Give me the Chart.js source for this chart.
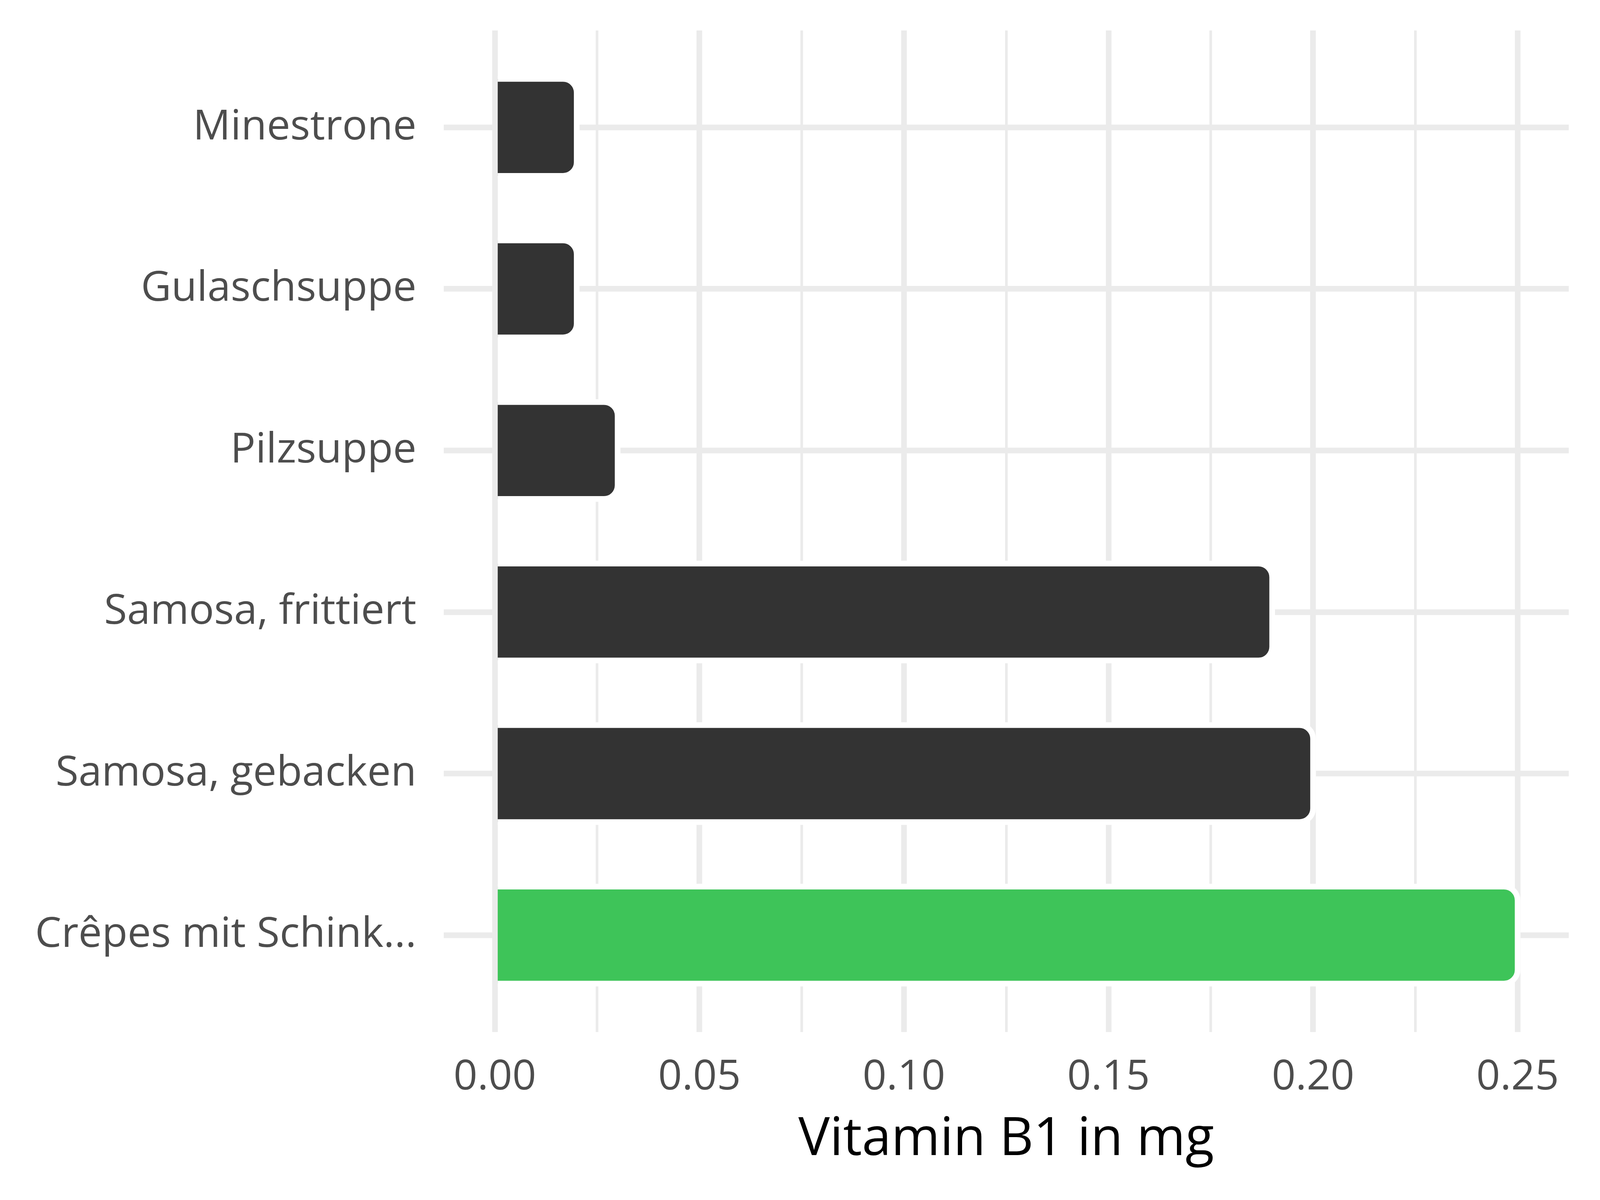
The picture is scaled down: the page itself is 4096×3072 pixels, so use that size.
<!DOCTYPE html>
<html>
<head>
<meta charset="utf-8">
<script src="https://cdn.jsdelivr.net/npm/chart.js@4.4.1/dist/chart.umd.min.js"></script>
<style>
  html, body { margin: 0; padding: 0; background: #ffffff; }
  #wrap { width: 4096px; height: 3072px; position: relative; }
</style>
</head>
<body>
<div id="wrap"><canvas id="c" width="4096" height="3072"></canvas></div>
<script>
// ---- data ----
const categories = ["Minestrone", "Gulaschsuppe", "Pilzsuppe", "Samosa, frittiert", "Samosa, gebacken", "Crêpes mit Schink..."];
const values = [0.02, 0.02, 0.03, 0.19, 0.20, 0.25];
const barColors = ["#333333", "#333333", "#333333", "#333333", "#333333", "#3EC459"];
const xMajorTicks = [0.00, 0.05, 0.10, 0.15, 0.20, 0.25];
const xTickLabels = ["0.00", "0.05", "0.10", "0.15", "0.20", "0.25"];
const xMinorTicks = [0.025, 0.075, 0.125, 0.175, 0.225];
const xAxisTitle = "Vitamin B1 in mg";

const FONT = "'Open Sans', 'Noto Sans', sans-serif";
const MAJOR_W = 14.5, MINOR_W = 6.8, GRID = "#EBEBEB";
const RADIUS = 35, OUTLINE_W = 14.5;

const isMajor = v => xMajorTicks.some(m => Math.abs(m - v) < 1e-9);

const outlinePlugin = {
  id: 'outline',
  afterDatasetsDraw(chart) {
    const ctx = chart.ctx;
    const meta = chart.getDatasetMeta(0);
    ctx.save();
    ctx.strokeStyle = '#ffffff';
    ctx.lineWidth = OUTLINE_W;
    ctx.lineCap = 'butt';
    ctx.lineJoin = 'round';
    meta.data.forEach(el => {
      const p = el.getProps(['x', 'y', 'base', 'height'], true);
      const top = p.y - p.height / 2, bottom = p.y + p.height / 2;
      const r = Math.min(RADIUS, (p.x - p.base) / 2, p.height / 2);
      ctx.beginPath();
      ctx.moveTo(p.base, top);
      ctx.lineTo(p.x - r, top);
      ctx.arcTo(p.x, top, p.x, top + r, r);
      ctx.lineTo(p.x, bottom - r);
      ctx.arcTo(p.x, bottom, p.x - r, bottom, r);
      ctx.lineTo(p.base, bottom);
      ctx.stroke();
    });
    ctx.restore();
  }
};

new Chart(document.getElementById('c'), {
  type: 'bar',
  data: {
    datasets: [{
      data: values.map((v, i) => ({ x: v, y: i + 1 })),
      backgroundColor: barColors,
      borderWidth: 0,
      borderRadius: RADIUS,
      borderSkipped: 'start',
      barPercentage: 0.6,
      categoryPercentage: 1.0
    }]
  },
  options: {
    indexAxis: 'y',
    responsive: false,
    animation: false,
    devicePixelRatio: 1,
    layout: { padding: { top: 78, right: 80, left: 0, bottom: 0 } },
    plugins: { legend: { display: false }, tooltip: { enabled: false } },
    scales: {
      x: {
        type: 'linear',
        position: 'bottom',
        min: -0.0125,
        max: 0.2625,
        offset: false,
        afterBuildTicks: s => {
          s.ticks = xMajorTicks.concat(xMinorTicks).sort((a, b) => a - b).map(v => ({ value: v }));
        },
        afterFit: s => { s.height = 430; s.paddingLeft = 0; s.paddingRight = 0; },
        ticks: {
          autoSkip: false,
          maxRotation: 0,
          padding: 52,
          color: '#4D4D4D',
          font: { family: FONT, size: 107, weight: 400 },
          callback: v => {
            const i = xMajorTicks.findIndex(m => Math.abs(m - v) < 1e-9);
            return i >= 0 ? xTickLabels[i] : '';
          }
        },
        grid: {
          color: GRID,
          drawTicks: false,
          offset: false,
          lineWidth: c => (c.tick && !isMajor(c.tick.value)) ? MINOR_W : MAJOR_W
        },
        border: { display: false },
        title: {
          display: true,
          text: xAxisTitle,
          color: '#000000',
          font: { family: FONT, size: 135, weight: 400 },
          padding: { top: 0, bottom: 72 }
        }
      },
      y: {
        type: 'linear',
        min: 0.4,
        max: 6.6,
        reverse: true,
        offset: false,
        afterBuildTicks: s => { s.ticks = categories.map((c, i) => ({ value: i + 1 })); },
        afterFit: s => { s.width = 1136; s.paddingTop = 0; s.paddingBottom = 0; },
        ticks: {
          autoSkip: false,
          padding: 70,
          color: '#4D4D4D',
          font: { family: FONT, size: 107, weight: 400 },
          callback: v => categories[Math.round(v) - 1]
        },
        grid: { color: GRID, drawTicks: false, offset: false, lineWidth: MAJOR_W },
        border: { display: false }
      }
    }
  },
  plugins: [outlinePlugin]
});
</script>
</body>
</html>
